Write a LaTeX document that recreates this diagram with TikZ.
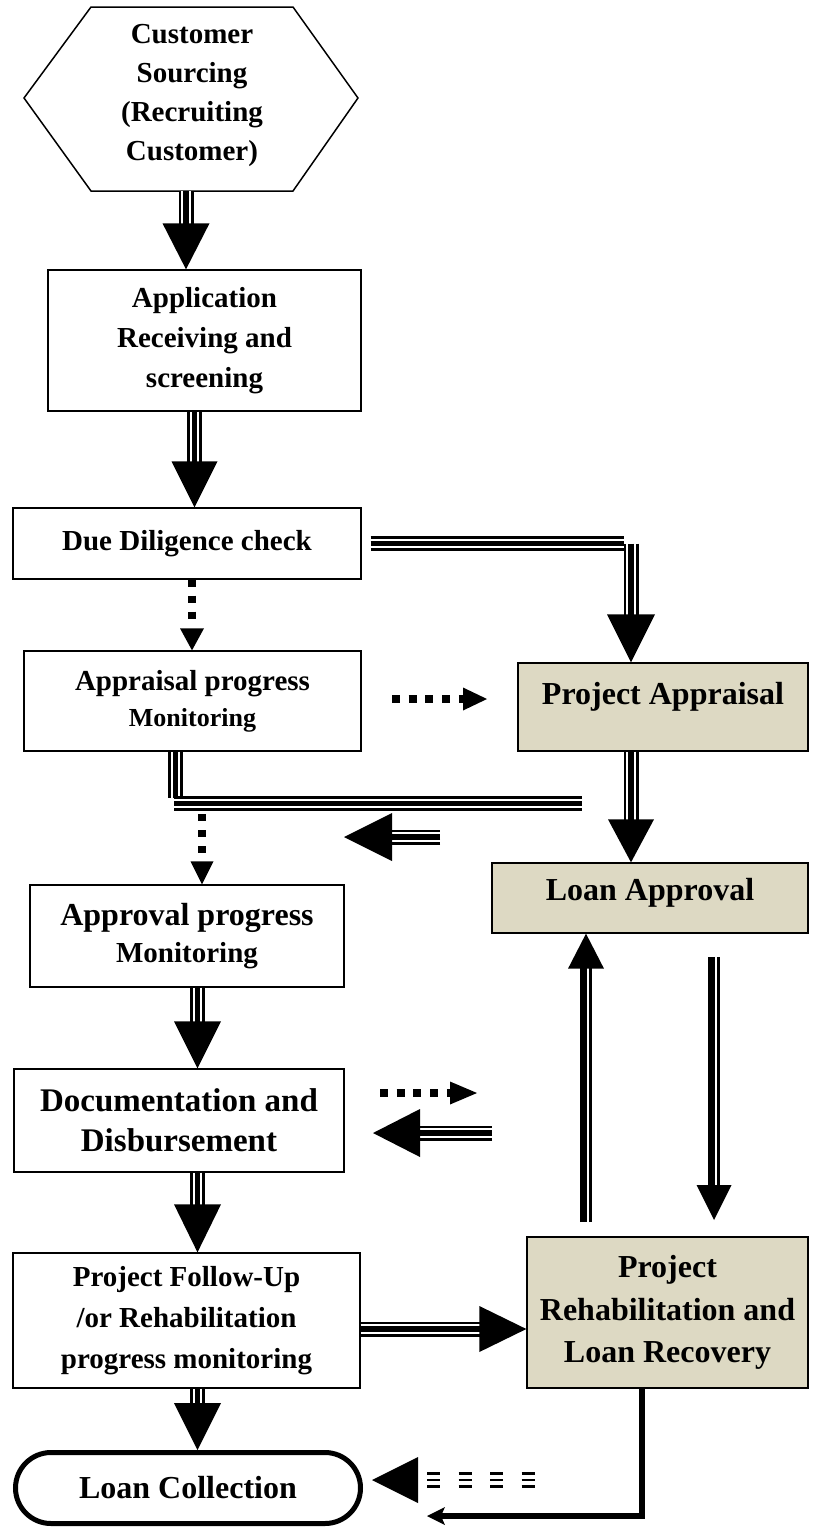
\documentclass[tikz,border=0pt]{standalone}
\usepackage{fontspec}
\setmainfont{Liberation Serif}
\definecolor{tanc}{RGB}{221,217,195}
\newcommand\fsz[2]{\fontsize{#1}{#2}\selectfont\bfseries}
\newcommand\HeadDown[3]{\fill[black] #1 -- ++(-#2,-#3) -- ++(2*#2,0) -- cycle;}
\newcommand\HeadUp[3]{\fill[black] #1 -- ++(-#2,#3) -- ++(2*#2,0) -- cycle;}
\newcommand\HeadLeft[3]{\fill[black] #1 -- ++(#3,-#2) -- ++(0,2*#2) -- cycle;}
\newcommand\HeadRight[3]{\fill[black] #1 -- ++(-#3,-#2) -- ++(0,2*#2) -- cycle;}
\begin{document}
\begin{tikzpicture}[x=1pt,y=-1pt,
  box/.style={draw, line width=1.3pt, inner sep=0pt, align=center},
  tanbox/.style={box, fill=tanc},
  tline/.style={line width=15pt, postaction={draw, white, line width=9.5pt}, postaction={draw, black, line width=5.5pt}},
  dline/.style={line width=8pt, dash pattern=on 7pt off 9pt},
  hdline/.style={line width=8pt, dash pattern=on 8pt off 8.7pt}]
\useasboundingbox (0,0) rectangle (829,1531);

% nodes
\draw[line width=1.5pt] (24,98) -- (91,7) -- (293,7) -- (358,98) -- (293,191) -- (91,191) -- cycle;
\node[align=center, font=\fsz{29}{39}] (hex) at (192,95) {Customer\\Sourcing\\(Recruiting\\Customer)};
\node[box, minimum width=313pt, minimum height=141pt, font=\fsz{29}{40}] (app) at (204.5,340.5) {Application\\Receiving and\\screening};
\node[box, minimum width=348pt, minimum height=71pt, font=\fsz{29}{36}] (dd) at (187,543.5) {Due Diligence check};
\node[box, minimum width=337pt, minimum height=100pt, font=\fsz{29}{36}] (apm) at (192.5,701) {Appraisal progress\\{\fsz{26}{36}Monitoring}};
\node[box, minimum width=314pt, minimum height=102pt, font=\fsz{32}{37}] (avm) at (187,936) {Approval progress\\{\fsz{29}{37}Monitoring}};
\node[box, minimum width=330pt, minimum height=103pt, font=\fsz{33}{40}] (doc) at (179,1120.5) {Documentation and\\Disbursement};
\node[box, minimum width=347pt, minimum height=135pt, font=\fsz{29}{41}] (fup) at (186.5,1320.5) {Project Follow-Up\\/or Rehabilitation\\progress monitoring};
\node[tanbox, minimum width=290pt, minimum height=88pt, text depth=27pt, font=\fsz{32}{38}] (pa) at (663,707) {Project Appraisal};
\node[tanbox, minimum width=316pt, minimum height=70pt, text depth=17pt, font=\fsz{32}{38}] (la) at (650,898) {Loan Approval};
\node[tanbox, minimum width=281pt, minimum height=151pt, font=\fsz{32}{42.5}] (reh) at (667.5,1312.5) {Project\\Rehabilitation and\\Loan Recovery};
\node[draw, line width=5pt, rounded corners=35.5pt, minimum width=345pt, minimum height=71pt, inner sep=0pt, font=\fsz{32}{38}] (lc) at (188,1488) {Loan Collection};

% arrow 1: hex -> app
\coordinate (a1s) at (186,191);
\draw[tline] (a1s) -- ++(0,36);
\HeadDown{(a1s |- app.north)}{23.5}{46}

% arrow 2: app -> dd
\coordinate (a2) at (194.5,0);
\draw[tline] (app.south -| a2) -- ++(0,54);
\HeadDown{(a2 |- dd.north)}{23}{46}

% arrow 3: dd -> apm (dotted)
\coordinate (a3) at (192,0);
\draw[dline] (dd.south -| a3) -- ++(0,48);
\HeadDown{(a3 |- apm.north)}{12}{22}

% arrow 4: dd -> pa
\coordinate (a4) at (631,543.5);
\draw[tline] ([xshift=9pt]dd.east) -- ([xshift=-7.5pt]a4);
\draw[tline] (a4) -- ++(0,75);
\HeadDown{(a4 |- pa.north)}{24}{48}

% arrow 5: apm -> pa (dotted)
\coordinate (a5s) at (392,699);
\coordinate (a5e) at (487,699);
\draw[hdline] (a5s) -- ++(71,0);
\HeadRight{(a5e)}{11.5}{24}

% arrow 6: pa -> la
\draw[tline] (pa.south -| a4) -- ++(0,71);
\HeadDown{(a4 |- la.north)}{23}{43}

% line from apm
\coordinate (a7) at (175.5,0);
\draw[tline] (apm.south -| a7) -- ++(0,46);
\coordinate (h1) at (174,803.5);
\coordinate (h2) at (582,803.5);
\draw[tline] (h1) -- (h2);

% arrow 7: left arrow
\coordinate (a7s) at (440,837);
\coordinate (a7e) at (344,837);
\draw[tline] (a7s) -- ++(-50,0);
\HeadLeft{(a7e)}{24}{48}

% arrow 8: dotted down to avm
\coordinate (a8) at (202,814);
\draw[dline] (a8) -- ++(0,48);
\HeadDown{(a8 |- avm.north)}{11.5}{23}

% arrow 9: avm -> doc
\coordinate (a9) at (197.5,0);
\draw[tline] (avm.south -| a9) -- ++(0,36);
\HeadDown{(a9 |- doc.north)}{23.5}{47}

% arrow 10: dotted right
\coordinate (a10s) at (380,1093);
\coordinate (a10e) at (477,1093);
\draw[hdline] (a10s) -- ++(71,0);
\HeadRight{(a10e)}{11.5}{27}

% arrow 11: left
\coordinate (a11s) at (492,1133);
\coordinate (a11e) at (373,1133);
\draw[tline] (a11s) -- ++(-74,0);
\HeadLeft{(a11e)}{24}{47}

% arrow 12: doc -> fup
\draw[tline] (doc.south -| a9) -- ++(0,36);
\HeadDown{(a9 |- fup.north)}{23.5}{48}

% arrow 13: fup -> reh
\coordinate (a13) at (0,1329);
\draw[tline] (fup.east |- a13) -- ++(123,0);
\HeadRight{(reh.west |- a13)}{23}{47}

% arrow 14: fup -> lc
\coordinate (a14) at (197.5,0);
\draw[tline] (fup.south -| a14) -- ++(0,18);
\HeadDown{(a14 |- lc.north)}{23.5}{47}

% arrow 15: reh -> lc elbow
\coordinate (e1) at (642,1516);
\coordinate (e2) at (427,1516);
\draw[line width=6pt] (reh.south -| e1) -- (e1) -- ([xshift=13pt]e2);
\fill[black] (e2) -- ++(18,-9) -- ++(-4,9) -- ++(4,9) -- cycle;

% arrow 16: dashed triple left
\coordinate (a16s) at (427,1480);
\coordinate (a16e) at (372,1480);
\foreach \dy in {-6.5,0,6.5}
  \draw[line width=2.4pt, dash pattern=on 13pt off 18.5pt] ([yshift=\dy pt]a16s) -- ++(111,0);
\HeadLeft{(a16e)}{23}{46}

% arrow 17: up double reh -> la
\coordinate (u) at (586,1222);
\draw[line width=6.7pt] ([xshift=-2.7pt]u) -- ++(0,-254);
\draw[line width=2.6pt] ([xshift=4.5pt]u) -- ++(0,-254);
\HeadUp{(u |- la.south)}{18}{35}

% arrow 18: down double
\coordinate (dn) at (714,957);
\coordinate (dne) at (714,1220);
\draw[line width=6.7pt] ([xshift=-2.5pt]dn) -- ++(0,231);
\draw[line width=3pt] ([xshift=4.3pt]dn) -- ++(0,231);
\HeadDown{(dne)}{17.5}{35}
\end{tikzpicture}
\end{document}
